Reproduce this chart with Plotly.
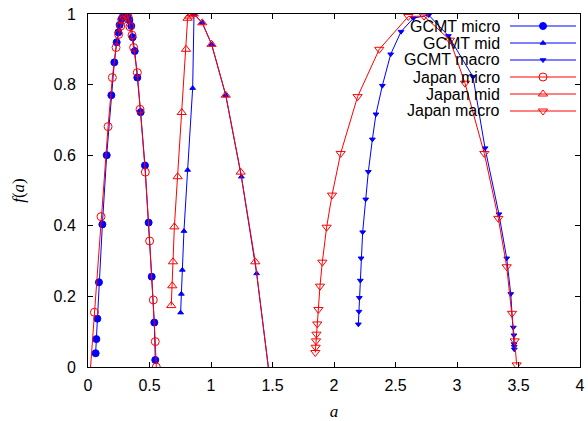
import plotly.graph_objects as go

# ---------------- data ----------------
gcmt_micro_a = [0.062, 0.068, 0.076, 0.089, 0.117, 0.152, 0.190, 0.214, 0.233, 0.247, 0.257, 0.271,
                0.287, 0.302, 0.322, 0.336, 0.352, 0.363, 0.380, 0.401, 0.428, 0.463, 0.493, 0.518,
                0.539, 0.547]
gcmt_micro_f = [0.039, 0.079, 0.137, 0.240, 0.404, 0.600, 0.770, 0.863, 0.920, 0.948, 0.969, 0.985,
                0.996, 1.000, 0.996, 0.983, 0.966, 0.934, 0.895, 0.820, 0.722, 0.571, 0.409, 0.256,
                0.126, 0.020]

gcmt_mid_a = [0.753, 0.759, 0.767, 0.780, 0.810, 0.851, 0.862, 0.929, 1.005, 1.120, 1.247, 1.371, 1.500]
gcmt_mid_f = [0.154, 0.207, 0.275, 0.385, 0.558, 0.790, 1.000, 0.975, 0.914, 0.770, 0.539, 0.265, -0.095]

gcmt_macro_a = [2.198, 2.203, 2.206, 2.214, 2.220, 2.233, 2.258, 2.279, 2.312, 2.341, 2.393, 2.461,
                2.545, 2.645, 2.770, 2.930, 3.130, 3.228, 3.341, 3.404, 3.437, 3.458, 3.463, 3.464,
                3.465, 3.466]
gcmt_macro_f = [0.121, 0.157, 0.196, 0.245, 0.308, 0.382, 0.475, 0.553, 0.645, 0.716, 0.797, 0.886,
                0.950, 0.988, 0.997, 0.938, 0.822, 0.620, 0.433, 0.308, 0.207, 0.112, 0.090, 0.065,
                0.058, 0.050]

japan_micro_a = [0.000, 0.052, 0.106, 0.163, 0.198, 0.228, 0.249, 0.266, 0.279, 0.293, 0.310, 0.328,
                 0.341, 0.358, 0.371, 0.401, 0.423, 0.466, 0.501, 0.531, 0.547, 0.555]
japan_micro_f = [-0.100, 0.155, 0.426, 0.681, 0.820, 0.905, 0.942, 0.966, 0.983, 0.994, 1.000, 0.990,
                 0.964, 0.940, 0.905, 0.834, 0.730, 0.552, 0.357, 0.190, 0.072, 0.000]

japan_mid_a = [0.677, 0.685, 0.691, 0.702, 0.729, 0.762, 0.797, 0.810, 0.824, 0.843, 0.860, 0.929,
               1.005, 1.120, 1.241, 1.360, 1.500]
japan_mid_f = [0.174, 0.230, 0.298, 0.397, 0.539, 0.721, 0.900, 0.988, 0.994, 1.000, 1.000, 0.975,
               0.914, 0.770, 0.552, 0.298, -0.095]

japan_macro_a = [1.848, 1.851, 1.854, 1.857, 1.864, 1.873, 1.886, 1.905, 1.940, 1.984, 2.054, 2.192,
                 2.368, 2.604, 2.732, 2.943, 3.065, 3.222, 3.336, 3.404, 3.447, 3.469, 3.485]
japan_macro_f = [0.041, 0.056, 0.074, 0.093, 0.122, 0.163, 0.229, 0.297, 0.396, 0.487, 0.605, 0.766,
                 0.900, 0.993, 0.994, 0.926, 0.804, 0.605, 0.421, 0.284, 0.152, 0.074, 0.006]

series_names = ["GCMT micro", "GCMT mid", "GCMT macro", "Japan micro", "Japan mid", "Japan macro"]
x_ticks = [0, 0.5, 1, 1.5, 2, 2.5, 3, 3.5, 4]
x_tick_labels = ["0", "0.5", "1", "1.5", "2", "2.5", "3", "3.5", "4"]
y_ticks = [0, 0.2, 0.4, 0.6, 0.8, 1]
y_tick_labels = ["0", "0.2", "0.4", "0.6", "0.8", "1"]

# ---------------- styles ----------------
BLUE = "#0000ff"
RED = "#ff0000"
styles = [
    dict(color=BLUE, symbol="circle", size=7),
    dict(color=BLUE, symbol="triangle-up", size=5),
    dict(color=BLUE, symbol="triangle-down", size=5),
    dict(color=RED, symbol="circle-open", size=8),
    dict(color=RED, symbol="triangle-up-open", size=8),
    dict(color=RED, symbol="triangle-down-open", size=8),
]
data = [
    (gcmt_micro_a, gcmt_micro_f),
    (gcmt_mid_a, gcmt_mid_f),
    (gcmt_macro_a, gcmt_macro_f),
    (japan_micro_a, japan_micro_f),
    (japan_mid_a, japan_mid_f),
    (japan_macro_a, japan_macro_f),
]

fig = go.Figure()
for name, (xa, yf), st in zip(series_names, data, styles):
    fig.add_trace(go.Scatter(
        x=xa, y=yf, mode="lines+markers", name=name, showlegend=False,
        line=dict(color=st["color"], width=1),
        marker=dict(color=st["color"], symbol=st["symbol"], size=st["size"],
                    line=dict(color=st["color"], width=1)),
        cliponaxis=True,
    ))

# ---------------- gnuplot-style key (text right-aligned, sample on the right) ----------------
W, H = 588, 421
L, R, T, B = 88, 8, 14, 54
pw, ph = W - L - R, H - T - B
key_top = 26
key_step = 17
key_text_x = 502
key_line = (510, 576)
for i, (name, st) in enumerate(zip(series_names, styles)):
    py = key_top + i * key_step
    yy = (H - B - py) / ph
    xs = [(key_line[0] - L) / pw, (key_line[1] - L) / pw]
    fig.add_trace(go.Scatter(
        x=xs, y=[yy, yy], mode="lines", xaxis="x2", yaxis="y2", showlegend=False,
        line=dict(color=st["color"], width=1), hoverinfo="skip", cliponaxis=False))
    fig.add_trace(go.Scatter(
        x=[(xs[0] + xs[1]) / 2], y=[yy], mode="markers", xaxis="x2", yaxis="y2", showlegend=False,
        marker=dict(color=st["color"], symbol=st["symbol"], size=st["size"],
                    line=dict(color=st["color"], width=1)),
        hoverinfo="skip", cliponaxis=False))
    fig.add_annotation(text=name, xref="paper", yref="paper",
                       x=(key_text_x - L) / pw, y=yy, xanchor="right", yanchor="middle",
                       showarrow=False, font=dict(family="Liberation Sans, Arial", size=16, color="black"))

axis_common = dict(
    showgrid=False, zeroline=False, showline=True, linecolor="black", linewidth=1,
    mirror="ticks", ticks="inside", ticklen=5, tickwidth=1, tickcolor="black",
    tickfont=dict(family="Liberation Sans, Arial", size=16, color="black"),
    automargin=False,
)
fig.update_layout(
    width=W, height=H,
    margin=dict(l=L, r=R, t=T, b=B),
    paper_bgcolor="white", plot_bgcolor="white",
    xaxis=dict(range=[0, 4], tickvals=x_ticks, ticktext=x_tick_labels,
               title=dict(text="<i>a</i>", font=dict(family="Liberation Serif, Times New Roman", size=17, color="black"), standoff=12),
               ticklabelstandoff=4, **axis_common),
    yaxis=dict(range=[0, 1], tickvals=y_ticks, ticktext=y_tick_labels,
               title=dict(text="<i>f</i>(<i>a</i>)", font=dict(family="Liberation Serif, Times New Roman", size=17, color="black"), standoff=24),
               ticklabelstandoff=8, **axis_common),
    xaxis2=dict(overlaying="x", range=[0, 1], visible=False, anchor="y2"),
    yaxis2=dict(overlaying="y", range=[0, 1], visible=False, anchor="x2"),
)

fig.write_html("out.html")
